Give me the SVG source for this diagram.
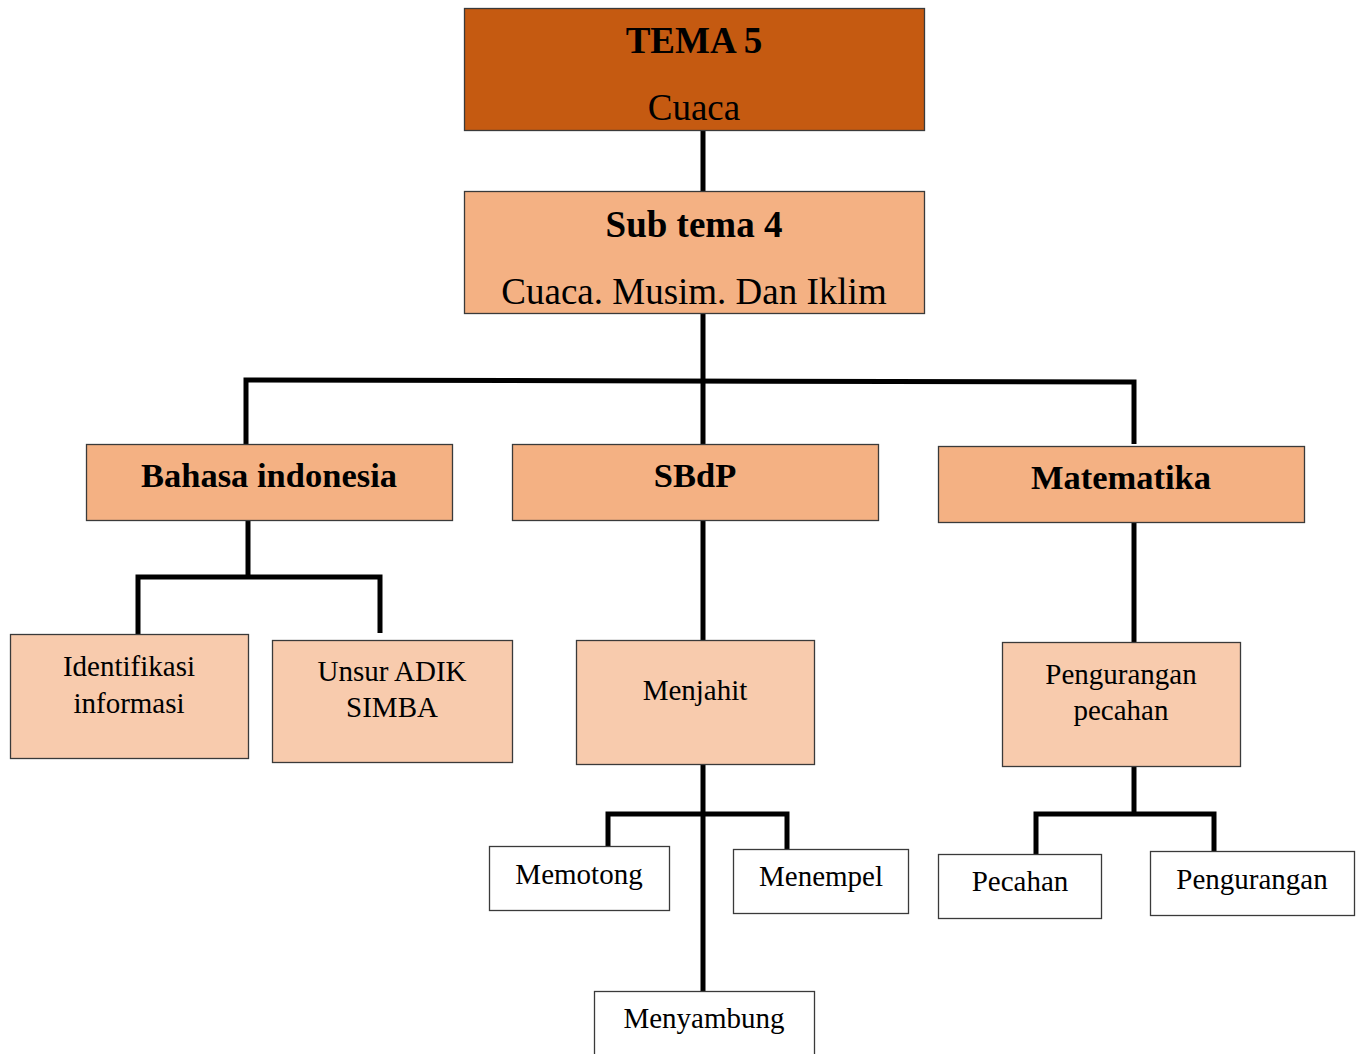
<svg xmlns="http://www.w3.org/2000/svg" width="1356" height="1054" viewBox="0 0 1356 1054">
<style>
.box{stroke:#3a3a3a;stroke-width:1.3}
.dark{fill:#C55A11}
.mid{fill:#F4B183}
.light{fill:#F8CBAD}
.white{fill:#ffffff}
text{font-family:"Liberation Serif","Times New Roman",serif;fill:#000;text-anchor:middle}
.b{font-weight:bold}
.big{font-size:37px}
.sub{font-size:34.5px}
.sm{font-size:29px}
.conn{stroke:#000;stroke-width:5;fill:none;stroke-linejoin:miter}
</style>
<rect width="1356" height="1054" fill="#fff"/>
<g id="connectors">
<path class="conn" d="M703 130V191"/>
<path class="conn" d="M703 314V444"/>
<path class="conn" d="M246 444V380L1134 382V444"/>
<path class="conn" d="M248 520V577"/>
<path class="conn" d="M138 634V577H380V633"/>
<path class="conn" d="M703 520V640"/>
<path class="conn" d="M703 764V991"/>
<path class="conn" d="M608 846V814H787V849"/>
<path class="conn" d="M1134 522V642"/>
<path class="conn" d="M1134 766V814"/>
<path class="conn" d="M1036 854V814H1214V851"/>
</g>
<g id="tema5">
<rect class="box dark" x="464.5" y="8.5" width="460" height="122"/>
<text class="b big" x="694" y="53">TEMA 5</text>
<text class="big" x="694" y="120">Cuaca</text>
</g>
<g id="subtema4">
<rect class="box mid" x="464.5" y="191.5" width="460" height="122"/>
<text class="b big" x="694" y="237">Sub tema 4</text>
<text class="big" x="694" y="304">Cuaca. Musim. Dan Iklim</text>
</g>
<g id="bahasa">
<rect class="box mid" x="86.5" y="444.5" width="366" height="76"/>
<text class="b sub" x="269" y="487">Bahasa indonesia</text>
</g>
<g id="sbdp">
<rect class="box mid" x="512.5" y="444.5" width="366" height="76"/>
<text class="b sub" x="695" y="487">SBdP</text>
</g>
<g id="matematika">
<rect class="box mid" x="938.5" y="446.5" width="366" height="76"/>
<text class="b sub" x="1121" y="489">Matematika</text>
</g>
<g id="identifikasi">
<rect class="box light" x="10.5" y="634.5" width="238" height="124"/>
<text class="sm" x="129" y="676">Identifikasi</text>
<text class="sm" x="129" y="713">informasi</text>
</g>
<g id="unsur">
<rect class="box light" x="272.5" y="640.5" width="240" height="122"/>
<text class="sm" x="392" y="681">Unsur ADIK</text>
<text class="sm" x="392" y="717">SIMBA</text>
</g>
<g id="menjahit">
<rect class="box light" x="576.5" y="640.5" width="238" height="124"/>
<text class="sm" x="695" y="700">Menjahit</text>
</g>
<g id="pengurangan-pecahan">
<rect class="box light" x="1002.5" y="642.5" width="238" height="124"/>
<text class="sm" x="1121" y="684">Pengurangan</text>
<text class="sm" x="1121" y="720">pecahan</text>
</g>
<g id="memotong">
<rect class="box white" x="489.5" y="846.5" width="180" height="64"/>
<text class="sm" x="579" y="884">Memotong</text>
</g>
<g id="menempel">
<rect class="box white" x="733.5" y="849.5" width="175" height="64"/>
<text class="sm" x="821" y="886">Menempel</text>
</g>
<g id="menyambung">
<rect class="box white" x="594.5" y="991.5" width="220" height="70"/>
<text class="sm" x="704" y="1028">Menyambung</text>
</g>
<g id="pecahan">
<rect class="box white" x="938.5" y="854.5" width="163" height="64"/>
<text class="sm" x="1020" y="891">Pecahan</text>
</g>
<g id="pengurangan">
<rect class="box white" x="1150.5" y="851.5" width="204" height="64"/>
<text class="sm" x="1252" y="889">Pengurangan</text>
</g>
</svg>
